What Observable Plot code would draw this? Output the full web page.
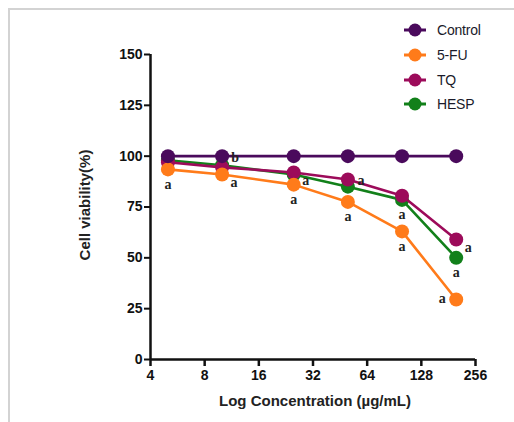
<!DOCTYPE html>
<html>
<head>
<meta charset="utf-8">
<script src="https://cdn.jsdelivr.net/npm/d3@7"></script>
<script src="https://cdn.jsdelivr.net/npm/@observablehq/plot@0.6"></script>
<style>
  html, body { margin: 0; padding: 0; background: #fff; }
  #wrap { position: relative; width: 514px; height: 422px; overflow: hidden; font-family: "Liberation Sans", Arial, sans-serif; }
  #frame { position: absolute; left: 8px; top: 8px; width: 520px; height: 430px; border-left: 2px solid #d3d3d3; border-top: 2px solid #d3d3d3; pointer-events: none; }
  #chart { position: absolute; left: 0; top: 0; }
  #legend { position: absolute; left: 404px; top: 18px; }
  .row { display: flex; align-items: center; height: 24.7px; }
  .row svg { display: block; }
  .row span { margin-left: 11px; font-size: 14px; color: #1a1a2a; letter-spacing: -0.2px; }
</style>
</head>
<body>
<div id="wrap">
  <div id="frame"></div>
  <div id="chart"></div>
  <div id="legend"></div>
</div>
<script>
const conc = [5, 10, 25, 50, 100, 200];
const seriesNames = ["Control", "5-FU", "TQ", "HESP"];
const seriesColors = ["#4a0a5c", "#ff7b1a", "#9c0b5a", "#12801a"];
const controlValues = [100, 100, 100, 100, 100, 100];
const fuValues = [93.5, 91, 86, 77.5, 63, 29.5];
const tqValues = [97, 94.5, 92, 88.5, 80.5, 59];
const hespValues = [98, 95.5, 91, 85, 78.5, 50];
const xTicks = [4, 8, 16, 32, 64, 128, 256];
const yTicks = [0, 25, 50, 75, 100, 125, 150];
const xTitle = "Log Concentration (µg/mL)";
const yTitle = "Cell viability(%)";

const labelConc = [5, 10, 10, 25, 25, 50, 50, 100, 100, 200, 200, 200];
const labelSeries = ["5-FU", "Control", "5-FU", "TQ", "5-FU", "TQ", "5-FU", "HESP", "5-FU", "TQ", "HESP", "5-FU"];
const labelText = ["a", "b", "a", "a", "a", "a", "a", "a", "a", "a", "a", "a"];
const labelPlace = ["below", "right", "belowRight", "belowRight", "below", "right", "below", "below", "below", "belowRight", "below", "left"];

const valuesBySeries = {"Control": controlValues, "5-FU": fuValues, "TQ": tqValues, "HESP": hespValues};
const colorOf = Object.fromEntries(seriesNames.map((s, i) => [s, seriesColors[i]]));

function rows(name) {
  return conc.map((c, i) => ({conc: c, value: valuesBySeries[name][i], series: name}));
}
const drawOrder = ["HESP", "TQ", "5-FU", "Control"];

const labels = labelConc.map((c, i) => ({
  conc: c,
  value: valuesBySeries[labelSeries[i]][conc.indexOf(c)],
  text: labelText[i],
  place: labelPlace[i]
}));
const placeOffsets = {below: [0, 15], right: [13, 1], belowRight: [12, 8], left: [-14, -1]};

const seriesMarks = drawOrder.flatMap(name => [
  Plot.line(rows(name), {x: "conc", y: "value", stroke: colorOf[name], strokeWidth: 2.6}),
  Plot.dot(rows(name), {x: "conc", y: "value", r: 7, fill: colorOf[name], stroke: null})
]);

const labelMarks = Object.entries(placeOffsets).map(([place, [dx, dy]]) =>
  Plot.text(labels.filter(d => d.place === place), {
    x: "conc", y: "value", text: "text", dx, dy,
    fontFamily: "Liberation Serif, Times New Roman, serif", fontWeight: "bold",
    fontSize: 14, fill: "#222"
  })
);

const chart = Plot.plot({
  width: 514,
  height: 422,
  marginLeft: 150,
  marginRight: 39,
  marginTop: 54,
  marginBottom: 63,
  style: {fontFamily: "Liberation Sans, Arial, sans-serif", background: "transparent", overflow: "visible"},
  x: {type: "log", base: 2, domain: [4, 256]},
  y: {domain: [0, 150]},
  marks: [
    Plot.axisY({ticks: yTicks, tickSize: 6, tickPadding: 2, strokeWidth: 2, stroke: "#111",
      fontSize: 14, fontWeight: "bold", fill: "#111", label: null, letterSpacing: "-0.4px"}),
    Plot.axisX({ticks: xTicks, tickFormat: d => String(d), tickSize: 7, tickPadding: 4, strokeWidth: 2.5, stroke: "#111",
      fontSize: 14, fontWeight: "bold", fill: "#111", label: null, letterSpacing: "-0.4px"}),
    Plot.ruleX([4], {stroke: "#111", strokeWidth: 2.5}),
    Plot.ruleY([0], {stroke: "#111", strokeWidth: 2.5}),
    ...seriesMarks,
    ...labelMarks,
    Plot.text([xTitle], {frameAnchor: "bottom", dy: 46, dx: 2, fontSize: 15, fontWeight: "bold", fill: "#222"}),
    Plot.text([yTitle], {frameAnchor: "left", textAnchor: "middle", rotate: -90, dx: -65, dy: -2, fontSize: 15, fontWeight: "bold", fill: "#222"})
  ]
});
document.getElementById("chart").appendChild(chart);

const legend = document.getElementById("legend");
seriesNames.forEach((name, i) => {
  const row = document.createElement("div");
  row.className = "row";
  row.innerHTML = `<svg width="22" height="16"><line x1="0" x2="22" y1="8" y2="8" stroke="${seriesColors[i]}" stroke-width="3"/><circle cx="11" cy="8" r="6.5" fill="${seriesColors[i]}"/></svg><span>${name}</span>`;
  legend.appendChild(row);
});
</script>
</body>
</html>
